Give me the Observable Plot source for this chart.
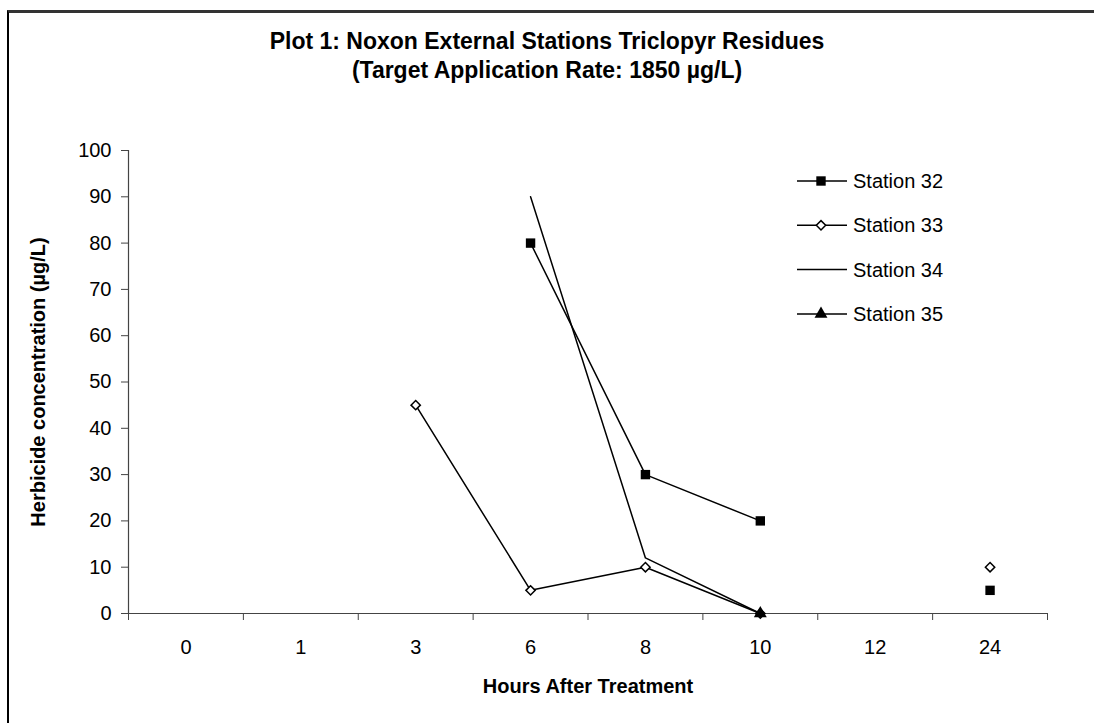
<!DOCTYPE html>
<html><head><meta charset="utf-8">
<script src="https://cdn.jsdelivr.net/npm/d3@7"></script>
<script src="https://cdn.jsdelivr.net/npm/@observablehq/plot@0.6"></script>
<style>
body{margin:0;background:#fff;font-family:Arial,"Liberation Sans",sans-serif;}
#wrap{position:relative;width:1094px;height:723px;overflow:hidden;background:#fff;}
#chart{position:absolute;left:0;top:0;}
#border{position:absolute;left:7px;top:10px;width:1200px;height:800px;border-left:2px solid #000;border-top:3px solid #333;pointer-events:none;}
#title{position:absolute;left:0;width:1094px;top:27px;text-align:center;font-weight:bold;font-size:23px;line-height:29px;color:#000;}
#legend{position:absolute;left:790px;top:160px;}
</style></head><body>
<div id="wrap"><div id="chart"></div><div id="border"></div><div id="title">Plot 1: Noxon External Stations Triclopyr Residues<br>(Target Application Rate: 1850 µg/L)</div><div id="legend"></div></div>
<script>
const hours = ["0","1","3","6","8","10","12","24"];
const station32 = [null,null,null,80,30,20,null,5];
const station33 = [null,null,45,5,10,0,null,10];
const station34 = [null,null,null,90,12,0,null,null];
const station35 = [null,null,null,null,null,0,null,null];
const seriesNames = ["Station 32","Station 33","Station 34","Station 35"];
const yTicks = [0,10,20,30,40,50,60,70,80,90,100];
const xTitle = "Hours After Treatment";
const yTitle = "Herbicide concentration (µg/L)";

const seriesValues = [station32, station33, station34, station35];
const rows = [];
seriesValues.forEach((vals, s) => vals.forEach((v, i) => rows.push({series: seriesNames[s], idx: i, hour: hours[i], value: v})));
const of = name => rows.filter(r => r.series === name);
const pts = name => of(name).filter(r => r.value != null);

const boundaries = hours.map((h, i) => i - 0.5).concat([hours.length - 0.5]);
const FONT = "Arial, 'Liberation Sans', sans-serif";

const chart = Plot.plot({
  width: 1094, height: 723,
  marginLeft: 128, marginRight: 47, marginTop: 150, marginBottom: 110,
  style: {fontSize: "20px", fontFamily: FONT, color: "#000", background: "transparent"},
  x: {domain: [-0.5, hours.length - 0.5]},
  y: {domain: [0, 100]},
  marks: [
    Plot.axisY({ticks: yTicks, tickSize: 7, tickPadding: 10, stroke: "#444", fontSize: 20, label: null}),
    Plot.axisX({ticks: boundaries, tickSize: 7, tickFormat: () => "", stroke: "#444", label: null}),
    Plot.axisX({ticks: d3.range(hours.length), tickSize: 0, tickPadding: 26, tickFormat: i => hours[i], fontSize: 20, label: null}),
    Plot.text([yTitle], {frameAnchor: "left", dx: -90, rotate: -90, textAnchor: "middle", fontWeight: "bold", fontSize: 20, fill: "#000"}),
    Plot.text([xTitle], {frameAnchor: "bottom", dy: 79, fontWeight: "bold", fontSize: 20, fill: "#000"}),
    Plot.ruleX([-0.5], {stroke: "#444", strokeWidth: 1.2}),
    Plot.ruleY([0], {stroke: "#444", strokeWidth: 1.2}),
    Plot.line(of("Station 32"), {x: "idx", y: "value", stroke: "#000", strokeWidth: 1.5}),
    Plot.dot(pts("Station 32"), {x: "idx", y: "value", symbol: "square", fill: "#000", r: 5.3}),
    Plot.line(of("Station 33"), {x: "idx", y: "value", stroke: "#000", strokeWidth: 1.5}),
    Plot.dot(pts("Station 33"), {x: "idx", y: "value", symbol: "diamond2", fill: "#fff", stroke: "#000", strokeWidth: 1.5, r: 4.2}),
    Plot.line(of("Station 34"), {x: "idx", y: "value", stroke: "#000", strokeWidth: 1.5}),
    Plot.line(of("Station 35"), {x: "idx", y: "value", stroke: "#000", strokeWidth: 1.5}),
    Plot.dot(pts("Station 35"), {x: "idx", y: "value", symbol: "triangle", fill: "#000", r: 4.8})
  ]
});
document.getElementById("chart").appendChild(chart);

// legend
const legendSymbols = [
  {type: d3.symbolSquare, size: 5.3*5.3*Math.PI, fill: "#000", stroke: "none"},
  {type: d3.symbolDiamond2, size: 4.2*4.2*Math.PI, fill: "#fff", stroke: "#000"},
  null,
  {type: d3.symbolTriangle, size: 4.8*4.8*Math.PI, fill: "#000", stroke: "none"}
];
const lg = d3.select("#legend").append("svg").attr("width", 220).attr("height", 180)
  .style("font-family", FONT).style("font-size", "20px");
seriesNames.forEach((name, i) => {
  const g = lg.append("g").attr("transform", `translate(0,${21 + i * 44.3})`);
  g.append("line").attr("x1", 7).attr("x2", 57).attr("y1", 0).attr("y2", 0).attr("stroke", "#000").attr("stroke-width", 1.5);
  const s = legendSymbols[i];
  if (s) g.append("path").attr("transform", "translate(31,0)").attr("d", d3.symbol(s.type, s.size)())
    .attr("fill", s.fill).attr("stroke", s.stroke).attr("stroke-width", 1.5);
  g.append("text").attr("x", 63).attr("y", 0).attr("dy", "0.35em").text(name);
});
</script>
</body></html>
